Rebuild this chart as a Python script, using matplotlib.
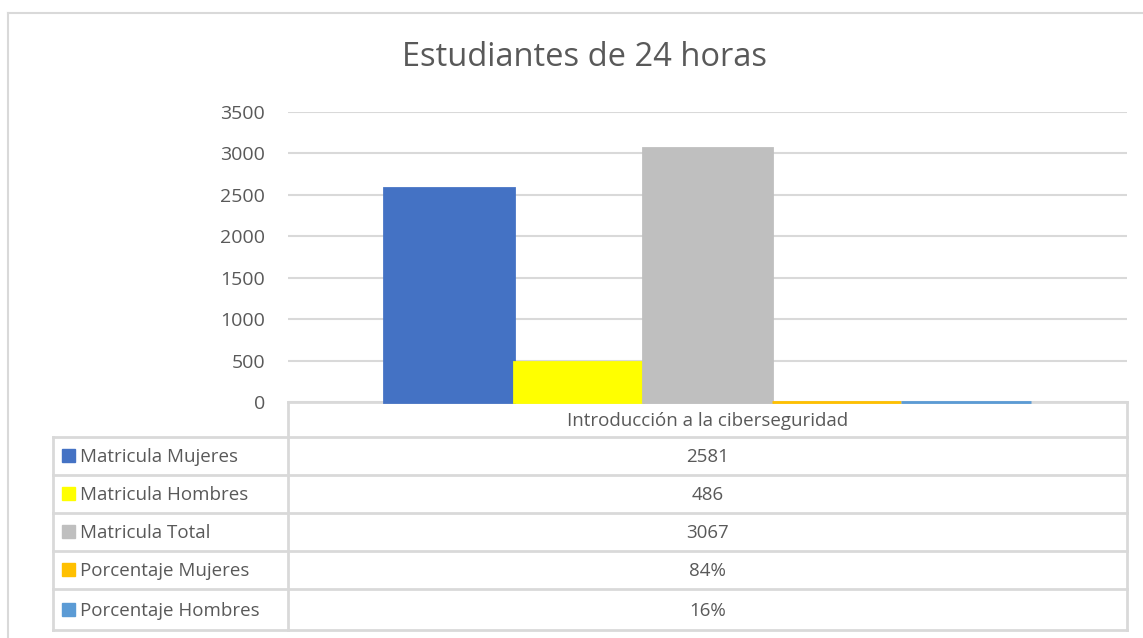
import matplotlib
matplotlib.use("Agg")
import matplotlib.pyplot as plt
from matplotlib.patches import Rectangle

plt.rcParams['font.family'] = ['Open Sans', 'DejaVu Sans']

title = "Estudiantes de 24 horas"
category = "Introducción a la ciberseguridad"
series = ["Matricula Mujeres", "Matricula Hombres", "Matricula Total",
          "Porcentaje Mujeres", "Porcentaje Hombres"]
values = [2581, 486, 3067, 0.84, 0.16]
table_labels = ["2581", "486", "3067", "84%", "16%"]
colors = ["#4472C4", "#FFFF00", "#BFBFBF", "#FFC000", "#5B9BD5"]
yticks = [0, 500, 1000, 1500, 2000, 2500, 3000, 3500]

W, H = 1143, 638
fig = plt.figure(figsize=(W / 100, H / 100), dpi=100)
txt = "#595959"
grid = "#D9D9D9"
fs = 13.5

# overlay axes in pixel coords
ov = fig.add_axes([0, 0, 1, 1])
ov.set_xlim(0, W)
ov.set_ylim(H, 0)
ov.axis("off")

# plot area
L, R, T, B = 288, 1127, 112, 402
ax = fig.add_axes([L / W, 1 - B / H, (R - L) / W, (B - T) / H])
ax.set_ylim(0, 3500)
ax.set_xlim(-0.5, 0.5)
ax.set_yticks(yticks)
ax.set_yticklabels([str(t) for t in yticks], color=txt, fontsize=14)
ax.tick_params(axis="y", length=0, pad=16.5)
ax.set_xticks([])
for s in ax.spines.values():
    s.set_visible(False)
ax.yaxis.grid(True, color=grid, linewidth=1.5)
ax.set_axisbelow(True)
ax.patch.set_alpha(0)

bw = 0.154
n = len(values)
for i, (v, c) in enumerate(zip(values, colors)):
    ax.bar((i - (n - 1) / 2) * bw, v, width=bw, color=c, edgecolor=c,
           linewidth=2, zorder=3, clip_on=False)

# title
fig.text(584 / W, 1 - 57 / H, title, ha="center", va="center",
         fontsize=23.5, color=txt)

# outer border
ov.plot([8, 8], [H, 12.5], color=grid, lw=1.5)
ov.plot([8, W], [12.5, 12.5], color=grid, lw=1.5)

# data table
rows = [402, 437, 475, 513, 551, 589, 630]
lc = 53
lw = 2
ov.plot([L, L], [rows[0], rows[-1]], color=grid, lw=lw)
ov.plot([R, R], [rows[0], rows[-1]], color=grid, lw=lw)
ov.plot([lc, lc], [rows[1], rows[-1]], color=grid, lw=lw)
ov.plot([L, R], [rows[0], rows[0]], color=grid, lw=lw)
for y in rows[1:]:
    ov.plot([lc, R], [y, y], color=grid, lw=lw)
ov.text((L + R) / 2, (rows[0] + rows[1]) / 2 + 1, category, ha="center",
        va="center", fontsize=fs, color=txt)
for i, (name, lab, c) in enumerate(zip(series, table_labels, colors)):
    yc = (rows[i + 1] + rows[i + 2]) / 2
    ov.add_patch(Rectangle((62, yc - 7), 13, 13, color=c))
    ov.text(80, yc + 1, name, ha="left", va="center", fontsize=fs, color=txt)
    ov.text((L + R) / 2, yc + 1, lab, ha="center", va="center", fontsize=fs,
            color=txt)

fig.savefig("out.png", dpi=100)
